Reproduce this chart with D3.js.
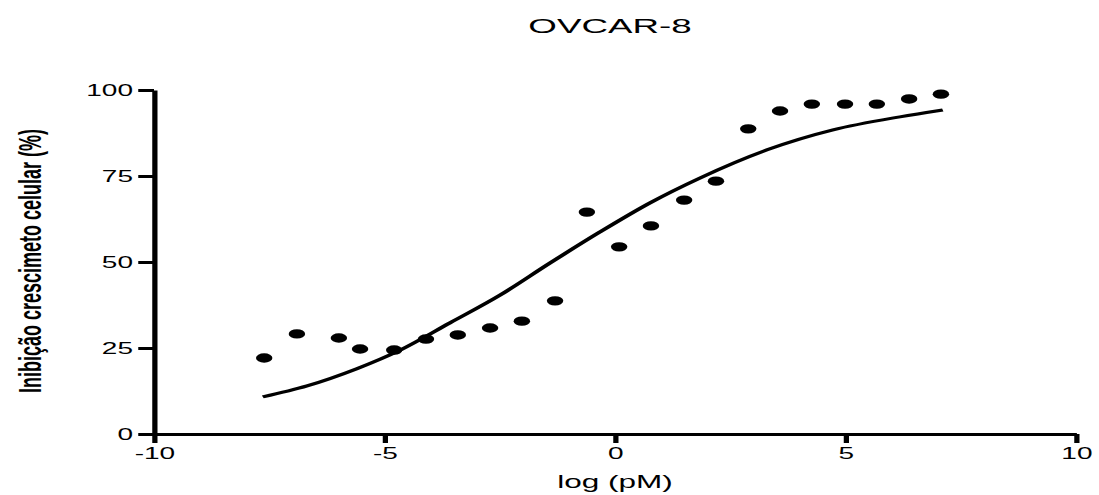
<!DOCTYPE html>
<meta charset="utf-8">
<style>
body { margin: 0; background: #fff; }
svg { display: block; }
text { font-family: "Liberation Sans", Arial, sans-serif; fill: #000; }
</style>
<body>
<svg width="1099" height="495"></svg>
<script src="https://d3js.org/d3.v7.min.js"></script>
<script>
// measured data (log pM vs % inhibition)
var logConc = [-7.61, -6.90, -5.99, -5.53, -4.79, -4.10, -3.41, -2.71, -2.02, -1.30, -0.61,
               0.09, 0.78, 1.50, 2.19, 2.89, 3.58, 4.27, 4.99, 5.68, 6.38, 7.07];
var inhibition = [22.1, 29.1, 27.9, 24.7, 24.4, 27.6, 28.8, 30.8, 32.8, 38.7, 64.5,
                  54.4, 60.5, 68.0, 73.5, 88.7, 93.9, 95.9, 95.9, 95.9, 97.4, 98.8];
// fitted curve
var fitX = [-7.64, -6.68, -5.60, -4.66, -3.58, -2.49, -1.41, -0.33, 0.76, 1.84, 3.30, 4.73, 6.18, 7.11];
var fitY = [10.8, 14.0, 19.0, 24.4, 32.3, 40.4, 49.7, 58.7, 67.2, 74.4, 82.6, 88.4, 92.2, 94.2];
var xTicks = [-10, -5, 0, 5, 10];
var yTicks = [0, 25, 50, 75, 100];

var sx = 1.75; // the picture is stretched horizontally

var svg = d3.select("svg");
var g = svg.append("g").attr("transform", "scale(" + sx + ",1)");

var x = d3.scaleLinear().domain([-10, 10]).range([154 / sx, 1076 / sx]),
    y = d3.scaleLinear().domain([0, 100]).range([434, 90]);

var fmt = function(d) { return String(d); }; // plain hyphen minus

var xAxis = g.append("g")
    .attr("transform", "translate(0," + y(0) + ")")
    .call(d3.axisBottom(x).tickValues(xTicks).tickFormat(fmt).tickSize(9).tickSizeOuter(0).tickPadding(5));
xAxis.selectAll("text").style("font-size", "16px").style("font-family", "Liberation Sans, Arial, sans-serif");

var yAxis = g.append("g")
    .attr("transform", "translate(" + x(-10) + ",0)")
    .call(d3.axisLeft(y).tickValues(yTicks).tickFormat(fmt).tickSize(9).tickSizeOuter(0).tickPadding(3));
yAxis.selectAll("text").style("font-size", "16px").style("font-family", "Liberation Sans, Arial, sans-serif");

g.selectAll(".domain").attr("stroke", "#000").attr("stroke-width", 3);
g.selectAll(".tick line").attr("stroke", "#000").attr("stroke-width", 3);

// fitted curve
var fit = fitX.map(function(d, i) { return [d, fitY[i]]; });
g.append("path")
    .datum(fit)
    .attr("fill", "none")
    .attr("stroke", "#000")
    .attr("stroke-width", 3)
    .attr("d", d3.line()
      .x(function(d) { return x(d[0]); })
      .y(function(d) { return y(d[1]); })
      .curve(d3.curveMonotoneX));

// points
g.selectAll(".pt")
    .data(logConc)
    .enter().append("circle")
      .attr("class", "pt")
      .attr("cx", function(d) { return x(d); })
      .attr("cy", function(d, i) { return y(inhibition[i]); })
      .attr("r", 4.7)
      .attr("fill", "#000");

// title
g.append("text")
    .attr("x", 610 / sx)
    .attr("y", 33)
    .attr("text-anchor", "middle")
    .style("font-size", "21px")
    .text("OVCAR-8");

// x label
g.append("text")
    .attr("x", 615 / sx)
    .attr("y", 488)
    .attr("text-anchor", "middle")
    .style("font-size", "18px")
    .text("log (pM)");

// y label
g.append("text")
    .attr("transform", "translate(" + (41 / sx) + ",261) rotate(-90)")
    .attr("text-anchor", "middle")
    .style("font-size", "18px")
    .style("font-weight", "bold")
    .text("Inibição crescimeto celular (%)");
</script>
</body>
